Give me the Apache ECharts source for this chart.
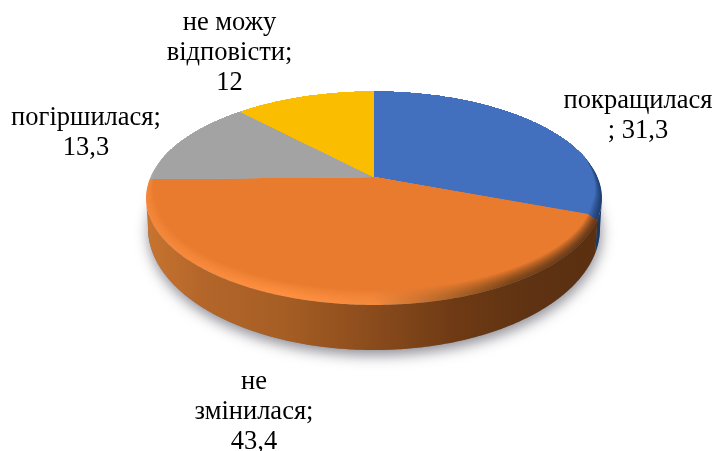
<!DOCTYPE html>
<html><head><meta charset="utf-8">
<style>html,body{margin:0;padding:0;background:#fff}#c{width:715px;height:451px}</style>
<script src="https://cdn.jsdelivr.net/npm/echarts@6/dist/echarts.min.js"></script>
</head><body><div id="c"></div>
<script>
const names = ['покращилася', 'не\nзмінилася', 'погіршилася', 'не можу\nвідповісти'];
const separators = ['\n; ', ';\n', ';\n', ';\n'];
const values = [31.3, 43.4, 13.3, 12];

const faceColors = ['#4270BF', '#E97B2F', '#A3A3A3', '#FABD00'];
const rimStops = [
  [['#4270BF',0],['#2F5FAF',.78],['#1F3E70',1]],
  [['#F4863A',0],['#FF9040',.3],['#F58A3C',.5],['#B2662A',.66],['#7A4518',.8],['#62361A',1]],
  [['#A8A8A8',0],['#A8A8A8',1]],
  [['#FABD00',0],['#FABD00',1]]
];
const wallStops = [
  [['#2A4E8C',0],['#2A4E8C',.9],['#1C3560',1]],
  [['#C87430',0],['#B4662A',.12],['#A65E24',.3],['#8A4B1C',.5],['#6E3A14',.68],['#5E3212',.85],['#5A3010',1]],
  [['#888',0],['#888',1]],
  [['#c90',0],['#c90',1]]
];
const labelPos = [[638,116],[254,412],[86,133],[229.5,53]];

const CX = 374, P = 0.199;
const TOP = {cy:177, A:223.4, B:102.5};
const BOT = {cy:203.7, A:221.5, B:117.2};
const XL = 146, XR = 602;
const total = values.reduce((a,b)=>a+b,0);

function proj(m, th){
  const u=Math.sin(th), v=Math.cos(th), d=1+P*v;
  return [CX+m.A*u/d, m.cy-m.B*v/d];
}
function rimPoint(th,t){
  const p=proj(TOP,th), u=Math.sin(th), v=Math.cos(th);
  const f=Math.min(1,Math.max(0,(-v+0.2)/0.5));
  return [p[0]-u*10*t*f, p[1]+v*15*t*f];
}
function arc(fn,a,b){
  const n=Math.max(2,Math.ceil(Math.abs(b-a)/0.01)), pts=[];
  for(let i=0;i<=n;i++) pts.push(fn(a+(b-a)*i/n));
  return pts;
}
function hGrad(stops){
  return {type:'linear',global:true,x:XL,y:0,x2:XR,y2:0,
    colorStops:stops.map(s=>({offset:s[1],color:s[0]}))};
}
const F0=Math.acos(-P), F1=2*Math.PI-F0;

function renderItem(params, api){
  const i=params.dataIndex;
  const v=api.value(0);
  let s=0; for(let j=0;j<i;j++) s+=values[j];
  const a=s/total*2*Math.PI, b=(s+v)/total*2*Math.PI;
  const kids=[];
  if(i===0){
    kids.push({type:'polygon',z2:0,shape:{points:arc(t=>proj(BOT,t),F0-0.3,F1+0.3)},
      style:{fill:'#777',shadowBlur:14,shadowColor:'rgba(60,60,75,0.6)',shadowOffsetY:5,shadowOffsetX:1}});
  }
  const wa=Math.max(a,F0), wb=Math.min(b,F1);
  if(wb>wa){
    const pts=arc(t=>proj(TOP,t),wa,wb).concat(arc(t=>proj(BOT,t),wb,wa));
    kids.push({type:'polygon',z2:1,shape:{points:pts},style:{fill:hGrad(wallStops[i])}});
  }
  const L=14, apex=[CX,TOP.cy];
  for(let k=0;k<=L;k++){
    const t=k/L;
    const stops=rimStops[i].map(c=>[echarts.color.lerp(Math.pow(t,1.4),[c[0],faceColors[i]]),c[1]]);
    const pts=[apex].concat(arc(th=>rimPoint(th,t),a,b));
    kids.push({type:'polygon',z2:2+i*20+k,shape:{points:pts},style:{fill:hGrad(stops)}});
  }
  const pos=labelPos[i];
  const txt=names[i]+separators[i]+String(v).replace('.',',');
  kids.push({type:'text',z2:200,style:{text:txt,x:pos[0],y:pos[1],align:'center',verticalAlign:'middle',
    font:'26.5px "Liberation Serif"',lineHeight:30,fill:'#000'}});
  return {type:'group',children:kids};
}
const chart=echarts.init(document.getElementById('c'),null,{renderer:'canvas'});
chart.setOption({animation:false,backgroundColor:'#fff',
  series:[{type:'custom',coordinateSystem:'none',renderItem,data:values,silent:true}]});
</script></body></html>
